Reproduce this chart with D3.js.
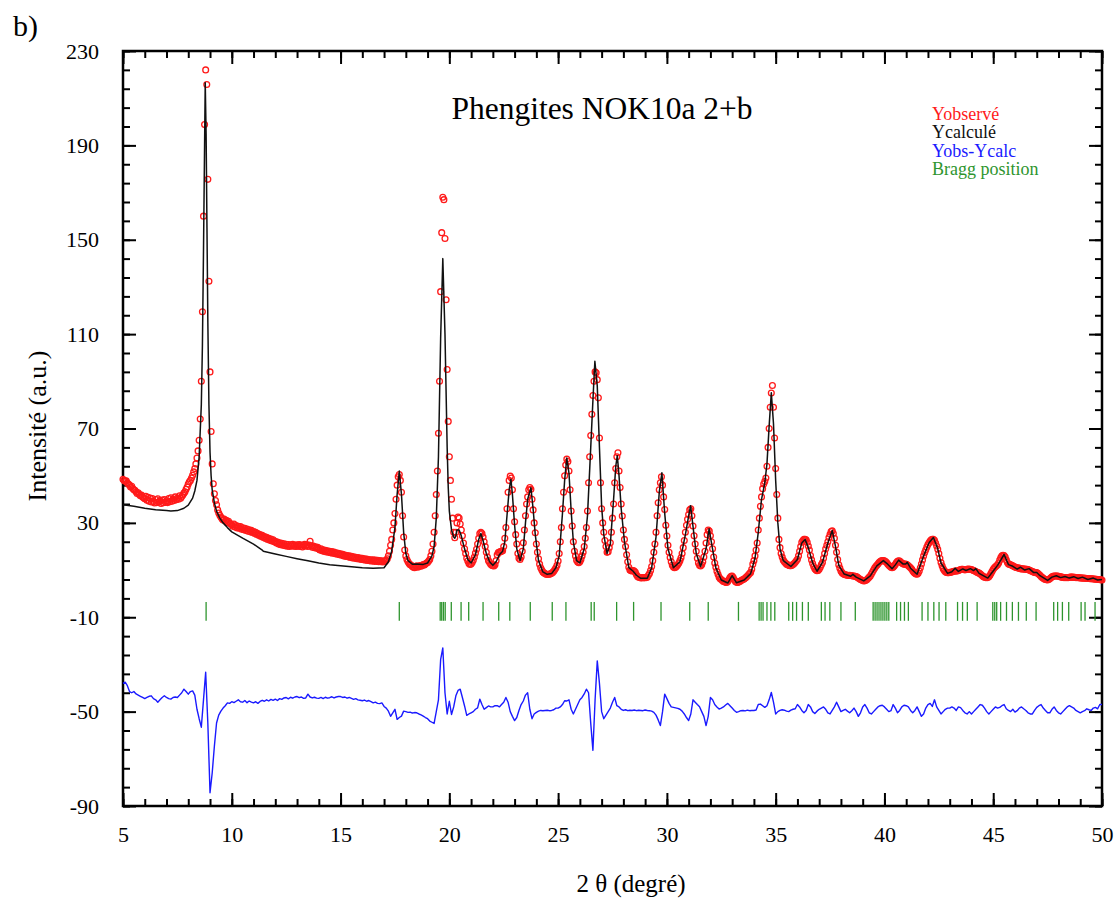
<!DOCTYPE html>
<html>
<head>
<meta charset="utf-8">
<script src="https://cdn.jsdelivr.net/npm/d3@7"></script>
<style>
    body { margin: 0; background: #fff; }
    svg { display: block; }
    svg text { font-family: "Liberation Serif", "DejaVu Serif", Times, serif; }
</style>
</head>
<body>
<div id="graph"></div>
<script>
"use strict";

// observed intensity, one value every 0.05 deg from 5.00 to 50.00
const obsStart = 5;
const obsStep = 0.05;
const yObs = [
    48.5, 48, 47.6, 47.8, 46.9, 46.5, 46, 45.2, 45.5, 44.6, 44, 43.8, 43.2, 42.5, 42.8, 42, 41.5, 41.8, 41, 40.6,
    40.2, 41.3, 39.6, 40.8, 39.2, 40.5, 38.9, 40.3, 39.1, 38.4, 39.9, 38.6, 40.2, 38.8, 39.5, 38.2, 39.7, 38.5, 39.9, 38.7,
    39.4, 38.6, 40.3, 39, 40.6, 39.2, 40.1, 39.5, 41, 39.8, 40.5, 40, 41.5, 40.4, 41.2, 41.8, 42.6, 43.2, 44.2, 45.2,
    46.5, 47.4, 48, 49, 50.2, 51.6, 53, 55, 57.5, 60.5, 65, 74, 90, 119.5, 160, 198.8, 222, 215.8, 175.6, 132.4,
    94, 68.7, 55, 46.6, 42.3, 39.5, 37.7, 35.5, 34.2, 33.2, 32.5, 31.8, 31.2, 31.6, 30.8, 31.1, 30.2, 30.7, 29.8, 29.6,
    29.2, 28.6, 29.5, 28.3, 28.9, 27.8, 28.6, 27.7, 28.4, 27.3, 27.9, 27.1, 27.7, 26.8, 27.4, 26.5, 27.1, 26.2, 26.8, 25.9,
    26.3, 25.5, 26, 25.1, 25.5, 24.6, 25.1, 24.2, 24.7, 23.8, 24.2, 23.4, 23.9, 23, 23.5, 22.6, 23.1, 22.3, 22.8, 22,
    22.2, 21.5, 21.9, 21, 21.6, 20.7, 21.3, 20.5, 21.1, 20.3, 20.9, 20.1, 20.8, 20, 20.7, 20.2, 20.9, 20.1, 20.6, 20,
    20.7, 20.1, 20.8, 20, 20.6, 19.8, 20.5, 20.9, 20.2, 20.7, 20, 20.6, 22.2, 20.3, 19.7, 20.2, 19.5, 19.9, 19.2, 19.6,
    18.9, 18.5, 19, 18.2, 18.6, 17.9, 18.4, 17.7, 18.2, 17.5, 18, 17.3, 17.8, 17.1, 17.6, 16.9, 17.3, 16.7, 17.1, 16.5,
    16.9, 16.3, 16.7, 16, 16.4, 15.8, 16.2, 15.6, 16, 15.3, 15.8, 15.1, 15.6, 15, 15.4, 14.8, 15.3, 14.7, 15.1, 14.5,
    15, 14.4, 14.8, 14.2, 14.7, 14.1, 14.5, 13.9, 14.4, 13.8, 14.3, 13.7, 14.2, 13.6, 14.1, 13.5, 14, 13.5, 13.9, 13.4,
    13.8, 13.6, 14.2, 14.8, 16, 18, 20.5, 23, 27, 30, 34, 40, 46, 49.5, 50.5, 48, 43, 33, 24, 18.5,
    16, 14.5, 13.5, 12.8, 12.3, 12, 11.5, 11.2, 11, 11.4, 11.8, 11.2, 11.5, 11.9, 11.6, 12, 12.3, 12.1, 12.6, 13,
    13.2, 13.8, 14.5, 16, 18, 21, 26, 33, 42, 52, 68, 90, 128, 153, 168, 167, 150.5, 124.6, 95, 73,
    58, 48, 40, 32, 26, 23.7, 26, 30, 32.5, 32, 29.5, 27, 24.5, 21.5, 19, 17, 15, 13.8, 12.8, 12.4,
    12.6, 13.2, 14.2, 15.5, 17.2, 18.8, 21, 23.5, 25.5, 26, 25.5, 24, 22, 20, 17.5, 15.5, 14, 13.2, 12.5, 12,
    11.8, 11.7, 12.2, 14, 16.5, 17.4, 17.6, 17.8, 18, 18.2, 20, 23.5, 28, 36, 43, 48, 49.8, 49, 44, 36,
    30.5, 25, 21, 17, 15, 14.5, 15.5, 18, 21.6, 27, 33, 38, 41, 44, 45, 44.2, 40, 35.5, 30, 25.8,
    21, 17.5, 14.8, 12.5, 11, 10, 9.2, 8.8, 8.5, 8.2, 8.1, 8.2, 8.2, 8.4, 8.6, 9, 9.5, 10.2, 11, 12,
    13.8, 17, 22, 28, 36, 43, 50, 54.5, 57, 56, 52, 44, 35, 28.7, 22, 18, 16, 14.2, 13.4, 13.1,
    13.5, 14.5, 16, 17.5, 20, 23.5, 28, 35, 47, 58, 67, 76, 84, 90, 94, 93.6, 90.7, 83, 66, 47,
    36, 30, 26, 22.5, 20, 17.5, 17.8, 19.5, 21.6, 26, 32, 38, 47, 53, 58, 59.7, 52, 45, 38, 32.9,
    27, 23, 20, 16.5, 13.5, 11.2, 10, 9.7, 9.6, 9.8, 9.6, 9, 8, 7.3, 7, 6.8, 6.7, 6.7, 6.8, 6.7,
    6.8, 6.8, 7, 7.8, 8.5, 9.8, 11.5, 14, 17.5, 21, 26, 33, 38.5, 44, 47, 49.5, 46, 41, 35.7, 29,
    24.4, 20.5, 17.5, 15.3, 13.5, 12, 11.3, 11, 11.2, 11.6, 12.2, 13, 14, 15.2, 17, 19.5, 22.5, 26, 29, 31.5,
    33.5, 35.5, 36, 33, 28.7, 24.5, 21, 18, 15, 13, 12, 11.7, 12.3, 13.5, 15.5, 18, 21.5, 25, 27, 26.5,
    24.5, 22, 19, 15.5, 13, 11.2, 9.5, 8.2, 7, 6.3, 6, 5.6, 5.2, 5, 4.8, 4.7, 5.2, 6, 6.8, 7.4,
    7.5, 6.8, 5.9, 5.2, 4.8, 4.7, 4.9, 5.2, 5.5, 5.8, 6, 6.2, 6.6, 7, 7.5, 8, 8.5, 9, 10.3, 12.5,
    14, 16, 18.5, 21.5, 27, 32, 37, 41, 44.5, 46.5, 47.5, 49, 54, 62, 70, 79, 85, 88.2, 79, 66,
    53, 42, 32, 23, 19.5, 17, 15.5, 14.2, 13.5, 13, 12.5, 12.2, 12, 11.8, 11.8, 12, 12.4, 12.8, 13.3, 13.9,
    14.6, 16, 18, 20, 21.8, 22.5, 23, 23, 22.8, 21.8, 20.2, 18.5, 16.2, 14.3, 12.8, 11.5, 10.6, 10, 9.7, 9.8,
    10.3, 11.2, 12.3, 13.2, 15, 17, 19, 20.5, 22, 23.8, 25.2, 26.3, 26.6, 25.5, 23.5, 20.5, 17.5, 14.5, 12.2, 10.8,
    9.6, 8.9, 8.4, 8.2, 8, 7.9, 7.8, 7.7, 7.8, 7.7, 7.6, 7.5, 7.5, 7.4, 7.2, 7, 6.6, 6.3, 6, 5.8,
    5.6, 5.4, 5.5, 5.7, 6, 6.5, 7, 7.5, 8.3, 9.2, 10, 10.8, 11.5, 12, 12.6, 13.2, 13.6, 13.9, 14, 14,
    13.9, 13.6, 13.2, 12.6, 12, 11.6, 11.2, 11, 11.2, 11.7, 12.4, 13.2, 13.7, 13.9, 13.8, 13.4, 13, 12.7, 12.5, 12.5,
    12.4, 12.2, 11.8, 11.4, 11, 10.4, 9.7, 9.1, 8.6, 8.3, 8.2, 8.6, 9.6, 11, 12.6, 14.3, 16, 17.4, 18.6, 19.8,
    20.8, 21.6, 22.3, 22.8, 23, 23, 22.6, 21.5, 20.2, 18.8, 17, 15, 13.2, 11.8, 10.6, 9.8, 9.3, 9, 8.9, 8.9,
    9, 9.1, 9.2, 9.4, 9.5, 9.6, 9.6, 9.6, 9.8, 10, 10.2, 10.3, 10.3, 10.2, 10.1, 10.2, 10.3, 10.4, 10.3, 10.3,
    10.2, 10, 9.8, 9.6, 9.4, 9.1, 8.9, 8.7, 8.4, 8, 7.6, 7.2, 7, 6.8, 6.8, 6.8, 7.2, 7.8, 8.6, 9.5,
    10.3, 11, 11.4, 11.8, 12.2, 13, 14.2, 15.3, 16, 16.3, 16.2, 15.5, 14.3, 13.2, 12.6, 12.4, 12.2, 12, 11.8, 11.5,
    11.3, 11.1, 11, 10.9, 10.8, 10.6, 10.5, 10.5, 10.4, 10.4, 10.3, 10.3, 10.2, 10, 9.8, 9.6, 9.4, 9.2, 9, 8.9,
    8.9, 8.6, 8.2, 7.8, 7.3, 6.9, 6.5, 6.2, 6, 5.9, 5.8, 6, 6.3, 6.7, 7.1, 7.4, 7.5, 7.5, 7.5, 7.5,
    7.4, 7.3, 7.1, 7, 6.9, 6.8, 6.8, 6.8, 6.8, 6.8, 6.9, 7, 7, 7, 6.9, 6.9, 6.8, 6.8, 6.8, 6.7,
    6.7, 6.6, 6.6, 6.6, 6.5, 6.5, 6.4, 6.4, 6.4, 6.3, 6.3, 6.3, 6.2, 6.2, 6.1, 6.1, 6, 6, 5.9, 5.9,
    5.8
];

// calculated profile [2theta, intensity]
const yCalc = [
    [5, 37.7], [5.5, 37], [6, 36.2], [6.5, 35.6], [7, 35.2], [7.2, 35], [7.5, 35.2], [7.8, 36.2], [8, 37.5],
    [8.2, 40.5], [8.3, 43.5], [8.4, 48], [8.5, 58], [8.6, 80], [8.65, 105], [8.7, 145], [8.75, 190], [8.78, 216.5],
    [8.82, 195], [8.86, 155], [8.9, 115], [8.95, 80], [9.0, 60], [9.05, 50], [9.1, 44], [9.2, 38.5], [9.3, 35],
    [9.45, 32], [9.6, 30], [9.8, 28], [10, 26.2], [10.5, 23.5], [11, 21], [11.4, 18.5], [11.45, 18], [12, 16.8],
    [12.5, 15.8], [13, 14.8], [13.5, 13.9], [14, 13], [14.5, 12.3], [15, 11.8], [15.5, 11.4], [16, 11], [16.5, 10.8],
    [17, 11], [17.2, 13.5], [17.35, 18], [17.5, 28], [17.6, 42], [17.7, 52], [17.8, 42], [17.9, 26], [18, 17],
    [18.1, 14], [18.3, 12.5], [18.5, 12.6], [18.8, 12.4], [19, 13], [19.2, 16], [19.3, 20], [19.4, 32], [19.5, 58],
    [19.6, 108], [19.7, 142], [19.8, 110], [19.9, 62], [19.95, 45], [20.0, 35], [20.1, 27], [20.2, 24], [20.25, 23.5],
    [20.3, 24.5], [20.35, 27], [20.45, 27], [20.55, 24.5], [20.7, 19], [20.85, 14.5], [21, 13], [21.2, 16.5],
    [21.35, 23], [21.45, 25.5], [21.55, 22.5], [21.7, 17], [21.85, 13.5], [22, 12], [22.15, 13.5], [22.3, 16.5],
    [22.45, 18], [22.55, 22], [22.65, 33], [22.75, 44], [22.83, 48.5], [22.9, 42], [23.0, 29], [23.1, 19],
    [23.25, 14], [23.4, 19], [23.5, 30], [23.6, 40], [23.75, 44.9], [23.85, 36], [23.95, 25], [24.1, 14], [24.3, 9.2],
    [24.5, 8.2], [24.7, 8.5], [24.9, 11], [25.05, 16], [25.2, 34], [25.3, 48], [25.4, 57.5], [25.5, 51], [25.6, 35],
    [25.7, 22], [25.85, 14], [26, 13], [26.2, 19], [26.35, 33], [26.5, 62], [26.6, 82], [26.69, 98.5], [26.8, 88],
    [26.9, 62], [27.0, 37], [27.1, 25], [27.25, 17], [27.4, 21], [27.55, 40], [27.65, 54], [27.72, 58.5], [27.8, 50],
    [27.9, 36], [28.05, 22], [28.25, 11], [28.45, 9.5], [28.6, 7.8], [28.8, 6.5], [29.1, 6.5], [29.3, 11], [29.5, 24],
    [29.65, 43], [29.77, 51.2], [29.9, 34], [30.05, 19], [30.3, 11], [30.6, 13.5], [30.85, 25], [31.0, 33],
    [31.09, 37.3], [31.2, 28.5], [31.35, 17], [31.55, 11.5], [31.8, 19], [31.94, 27.5], [32.06, 21], [32.25, 11],
    [32.5, 5.8], [32.8, 4.5], [33.0, 7.6], [33.2, 4.6], [33.55, 5.8], [33.85, 8.5], [34.05, 15], [34.2, 26],
    [34.35, 40], [34.5, 47], [34.6, 55], [34.7, 71], [34.8, 85.1], [34.9, 72], [35.0, 48], [35.1, 30], [35.2, 19],
    [35.35, 14], [35.7, 11.5], [36.0, 14.5], [36.2, 21.5], [36.35, 23], [36.5, 19.5], [36.7, 13], [36.9, 9.5],
    [37.15, 13.2], [37.4, 21.5], [37.6, 26.8], [37.75, 20], [37.9, 12], [38.15, 8.3], [38.45, 7.4], [38.55, 8.2],
    [38.7, 7], [39.05, 5.4], [39.35, 7.5], [39.65, 11.8], [39.95, 14], [40.15, 12.5], [40.35, 10.6], [40.5, 12.2],
    [40.65, 14.2], [40.85, 12.6], [40.98, 12.6], [41.05, 13.3], [41.2, 10.8], [41.5, 8.2], [41.8, 16], [42.05, 21.6],
    [42.25, 23.8], [42.45, 19], [42.6, 13], [42.9, 8.6], [43.1, 9.3], [43.25, 10.8], [43.4, 9.4], [43.6, 10.5],
    [43.75, 9.8], [43.95, 10.6], [44.1, 9.8], [44.2, 10.6], [44.35, 8.6], [44.75, 6.6], [45.0, 9.6], [45.2, 12],
    [45.5, 16.6], [45.7, 12.3], [45.9, 11.6], [46.1, 10.4], [46.25, 11.2], [46.45, 10], [46.65, 10.6], [46.85, 9],
    [47.0, 9], [47.15, 7.6], [47.5, 5.6], [47.7, 7], [47.9, 7.6], [48.1, 6.8], [48.3, 7.3], [48.5, 6.6], [48.7, 7.2],
    [48.9, 6.4], [49.1, 7], [49.35, 6], [49.6, 6.6], [49.8, 5.8], [50, 6]
];

// difference curve, one value every 0.1 deg from 5.0 to 50.0
const diffStart = 5;
const diffStep = 0.1;
const yDiff = [
    -38, -37.5, -39, -41.5, -42, -41.5, -42.5, -43, -43.5, -44,
    -44.5, -44, -43.5, -43.3, -44.5, -45, -46, -45, -44, -43.3,
    -44, -44.5, -44.7, -44, -43.8, -44, -43, -42, -40.5, -41.5,
    -42.6, -41.5, -41.2, -43, -49, -53, -56.6, -45, -33.3, -55,
    -84.4, -76, -64.7, -54.8, -51.5, -49.8, -48.5, -47.5, -46.3, -46.5,
    -45.8, -46.2, -45.6, -45, -45.8, -46, -45.3, -46.2, -45.5, -46,
    -46.3, -45.8, -46.5, -45.7, -45.2, -45.6, -45, -45.5, -44.8, -45.2,
    -44.7, -45.3, -44.5, -44.8, -44.2, -44, -44.6, -43.9, -44.3, -43.8,
    -43.6, -44.1, -43.8, -44.4, -44.2, -42.6, -43.8, -44.2, -43.9, -44.3,
    -44.4, -44, -44.5, -43.9, -44.3, -44.1, -43.7, -44.2, -43.8, -43.6,
    -43.6, -44, -43.8, -44.3, -44, -44.4, -44.8, -44.5, -45, -45.2,
    -45.4, -45.1, -45.6, -45.3, -45.8, -46.3, -46, -46.5, -46.6, -46.3,
    -47.8, -48.5, -49.8, -52, -50.5, -49, -53.3, -52.5, -51.9, -49.8,
    -50, -50.3, -50.2, -50.6, -50.4, -50.5, -51, -51.4, -51.9, -52.5,
    -53, -54, -54.5, -55, -50, -45, -28, -23, -42, -51,
    -45.6, -51.2, -48, -43.3, -41, -40.5, -44, -47.6, -51.6, -51,
    -50.5, -50, -49, -48.4, -44.7, -47, -49, -48.3, -47.6, -48,
    -48, -47.5, -47.5, -48, -47, -46, -44, -46, -50, -52,
    -53.8, -52.5, -49.5, -47, -45.5, -43, -42, -49, -53, -51,
    -50.3, -49.8, -49.5, -49.6, -49.5, -49.4, -49.6, -49.5, -49.2, -48.5,
    -48.5, -48, -47, -45.4, -45.5, -45, -49, -51, -49, -47,
    -45, -44, -42.5, -40.5, -42, -55, -66.4, -45, -28.5, -38,
    -50, -53, -51.5, -50, -48.5, -46, -44, -47.5, -48, -49,
    -49.5, -49.2, -49.6, -49.4, -49.5, -49.3, -49.6, -49.4, -49.5, -49.6,
    -49.3, -49.5, -49.6, -49.8, -50.3, -51.5, -53.5, -55.9, -50, -42.6,
    -44.5, -46.5, -48, -48.2, -48.4, -48.6, -49, -49.8, -51, -52.5,
    -53.8, -51, -45, -46, -47, -47.9, -50, -52, -55.9, -52,
    -44, -45, -47, -48, -48.9, -48.5, -48, -47.2, -46.5, -47.5,
    -48.5, -49.5, -50.3, -50, -49.6, -49.5, -49.7, -49.4, -49.6, -49.5,
    -49.5, -49.3, -47, -46.8, -47.5, -48.2, -47.5, -45, -41.9, -46,
    -51, -50, -49.5, -49.2, -49.4, -49.8, -50, -49.4, -49, -48.8,
    -47, -48, -49.5, -50.5, -49.5, -47, -48, -50, -50.8, -49.8,
    -49, -48.5, -48, -49, -50.5, -51, -49.5, -48, -46, -48,
    -50, -49.5, -49, -49.8, -50.5, -49.6, -48.5, -50, -52, -50.5,
    -48, -47, -48.5, -50.5, -51, -50, -49, -48, -47.5, -47.3,
    -48, -49, -50, -49.6, -47, -48.5, -50.5, -49.5, -48, -47.3,
    -47.5, -48, -49.5, -50.5, -49.5, -48, -50, -52, -51, -48.5,
    -47, -46.5, -47.8, -45, -48, -49.5, -51, -50, -49, -48.5,
    -48.5, -48, -48.5, -49.5, -48, -48.3, -49.5, -50.5, -51, -50,
    -51, -50, -49, -48, -47, -47.3, -48.5, -50, -51, -50,
    -49, -48, -48.5, -48.2, -47.5, -47, -48.8, -49.5, -50, -49,
    -50.2, -49.6, -48.5, -48, -48.8, -49.5, -50.5, -51, -51, -49.5,
    -48.2, -47.5, -47, -48.5, -49.5, -50.5, -50.5, -49, -48, -49.5,
    -50.5, -51, -50, -49, -48, -47.5, -48, -48.5, -49.5, -50,
    -50.5, -50, -49.6, -48.8, -49.2, -49.5, -48.5, -48.2, -48.8, -47,
    -47
];

// Bragg reflection positions (2theta)
const braggPos = [
    8.82, 17.7, 19.58, 19.65, 19.73, 19.81, 20.09, 20.54, 20.89, 21.55, 22.27, 22.78, 23.72, 24.73, 25.36,
    26.52, 26.66, 27.69, 28.47, 29.73, 31.05, 31.9, 33.29, 34.24, 34.33, 34.42, 34.6, 34.78, 34.96, 35.6,
    35.78, 35.96, 36.23, 36.5, 37.1, 37.27, 37.49, 38.0, 38.66, 39.48, 39.57, 39.66, 39.75, 39.84, 39.93,
    40.02, 40.11, 40.2, 40.56, 40.74, 40.92, 41.1, 41.73, 42.0, 42.27, 42.51, 42.82, 43.36, 43.59, 43.81,
    44.26, 44.98, 45.07, 45.16, 45.34, 45.61, 45.88, 46.16, 46.52, 46.97, 47.78, 47.96, 48.18, 48.47,
    49.04, 49.22, 49.68
];

const xTicks = [5, 10, 15, 20, 25, 30, 35, 40, 45, 50];
const yTicks = [230, 190, 150, 110, 70, 30, -10, -50, -90];

const legendItems = [
    { label: "Yobservé", color: "#ff1a1a" },
    { label: "Ycalculé", color: "#111111" },
    { label: "Yobs-Ycalc", color: "#1a1aff" },
    { label: "Bragg position", color: "#2e952e" }
];

(function() {
    const svgSize = { width: 1117, height: 905 };
    const plot = { left: 123, right: 1102, top: 51, bottom: 806 };
    const braggTop = -3.5;
    const braggBottom = -11.5;

    window.addEventListener("load", init);

    function init() {
        const svg = d3.select("#graph")
            .append("svg")
                .attr("width", svgSize.width)
                .attr("height", svgSize.height);

        const xScale = d3.scaleLinear()
            .domain([5, 50])
            .range([plot.left, plot.right]);
        const yScale = d3.scaleLinear()
            .domain([-90, 230])
            .range([plot.bottom, plot.top]);

        drawAxes(svg, xScale, yScale);
        drawData(svg, xScale, yScale);
        drawText(svg);
    }

    function drawData(svg, xScale, yScale) {
        let obs = yObs.map((v, i) => [obsStart + i * obsStep, v]);
        let diff = yDiff.map((v, i) => [diffStart + i * diffStep, v]);

        // bragg ticks
        svg.append("g")
            .selectAll("line")
            .data(braggPos)
            .enter()
            .append("line")
                .attr("x1", (d) => xScale(d))
                .attr("x2", (d) => xScale(d))
                .attr("y1", yScale(braggTop))
                .attr("y2", yScale(braggBottom))
                .attr("stroke", legendItems[3].color)
                .attr("stroke-width", 1.3);

        const line = d3.line()
            .x((d) => xScale(d[0]))
            .y((d) => yScale(d[1]));

        svg.append("path")
            .datum(diff)
            .attr("d", line)
            .attr("fill", "none")
            .attr("stroke", legendItems[2].color)
            .attr("stroke-width", 1.4)
            .attr("stroke-linejoin", "round");

        svg.append("g")
            .selectAll("circle")
            .data(obs)
            .enter()
            .append("circle")
                .attr("cx", (d) => xScale(d[0]))
                .attr("cy", (d) => yScale(d[1]))
                .attr("r", 2.9)
                .attr("fill", "none")
                .attr("stroke", legendItems[0].color)
                .attr("stroke-width", 1.3);

        svg.append("path")
            .datum(yCalc)
            .attr("d", line)
            .attr("fill", "none")
            .attr("stroke", legendItems[1].color)
            .attr("stroke-width", 1.5)
            .attr("stroke-linejoin", "round");
    }

    function drawAxes(svg, xScale, yScale) {
        const xMinor = d3.range(5, 51, 1);
        const yMinor = d3.range(-90, 231, 8);

        function styleAxis(g) {
            g.attr("font-family", null);
            g.select(".domain").remove();
            g.selectAll("line").attr("stroke", "#000").attr("stroke-width", 2);
            g.selectAll("text")
                .attr("fill", "#000")
                .style("font-size", "22px");
        }

        let axes = [
            { axis: d3.axisLeft(yScale), tr: "translate(" + plot.left + ",0)", major: yTicks, minor: yMinor, label: true, pad: 24 },
            { axis: d3.axisRight(yScale), tr: "translate(" + plot.right + ",0)", major: yTicks, minor: yMinor, label: false, pad: 4 },
            { axis: d3.axisBottom(xScale), tr: "translate(0," + plot.bottom + ")", major: xTicks, minor: xMinor, label: true, pad: 20 },
            { axis: d3.axisTop(xScale), tr: "translate(0," + plot.top + ")", major: xTicks, minor: xMinor, label: false, pad: 4 }
        ];

        axes.forEach((a) => {
            svg.append("g")
                .attr("transform", a.tr)
                .call(a.axis.tickValues(a.minor).tickSize(-7).tickFormat(""))
                .call(styleAxis);
            svg.append("g")
                .attr("transform", a.tr)
                .call(a.axis.tickValues(a.major).tickSize(-13).tickPadding(a.pad)
                    .tickFormat(a.label ? (d) => String(d) : ""))
                .call(styleAxis);
        });

        svg.append("rect")
            .attr("x", plot.left)
            .attr("y", plot.top)
            .attr("width", plot.right - plot.left)
            .attr("height", plot.bottom - plot.top)
            .attr("fill", "none")
            .attr("stroke", "#000")
            .attr("stroke-width", 2.5);
    }

    function drawText(svg) {
        svg.append("text")
            .attr("x", 13)
            .attr("y", 36)
            .style("font-size", "30px")
            .text("b)");

        svg.append("text")
            .attr("x", 602)
            .attr("y", 119)
            .attr("text-anchor", "middle")
            .style("font-size", "31.5px")
            .text("Phengites NOK10a 2+b");

        svg.append("text")
            .attr("x", 631)
            .attr("y", 892)
            .attr("text-anchor", "middle")
            .style("font-size", "25px")
            .text("2 θ (degré)");

        svg.append("text")
            .attr("transform", "translate(46,426) rotate(-90)")
            .attr("text-anchor", "middle")
            .style("font-size", "26px")
            .text("Intensité (a.u.)");

        svg.append("g")
            .selectAll("text")
            .data(legendItems)
            .enter()
            .append("text")
                .attr("x", 932)
                .attr("y", (d, i) => 120 + i * 18.3)
                .attr("fill", (d) => d.color)
                .style("font-size", "18px")
                .text((d) => d.label);
    }
})();
</script>
</body>
</html>
